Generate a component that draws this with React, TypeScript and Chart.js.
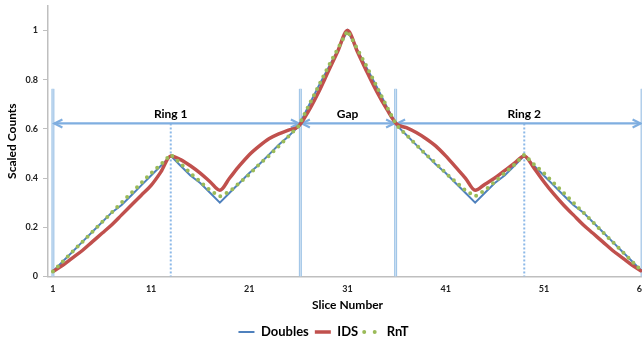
import React, { useEffect, useRef } from "react";
import { Chart, registerables } from "chart.js";

Chart.register(...registerables);

const FONT = "Lato, 'Open Sans', sans-serif";

// Slice numbers (categories)
const slices = Array.from({ length: 61 }, (_, i) => String(i + 1));

// Series values (scaled counts per slice)
const doubles = [
  0.02, 0.06, 0.10, 0.14, 0.18, 0.22, 0.26, 0.29, 0.33, 0.37, 0.41, 0.45, 0.49,
  0.45, 0.41, 0.38, 0.34, 0.30,
  0.34, 0.38, 0.42, 0.455, 0.495, 0.535, 0.57, 0.61,
  0.69, 0.77, 0.845, 0.92, 1.0,
  0.92, 0.845, 0.77, 0.69, 0.615,
  0.575, 0.535, 0.495, 0.455, 0.42, 0.38, 0.34, 0.30,
  0.34, 0.38, 0.41, 0.45, 0.49,
  0.45, 0.41, 0.37, 0.33, 0.29, 0.26, 0.22, 0.18, 0.14, 0.10, 0.06, 0.02,
];

const ids = [
  0.02, 0.045, 0.075, 0.105, 0.14, 0.175, 0.21, 0.25, 0.29, 0.33, 0.37, 0.425, 0.49,
  0.475, 0.45, 0.42, 0.385, 0.35,
  0.40, 0.45, 0.495, 0.53, 0.56, 0.58, 0.595, 0.61,
  0.67, 0.745, 0.83, 0.915, 1.0,
  0.915, 0.83, 0.75, 0.68, 0.62,
  0.605, 0.585, 0.56, 0.53, 0.49, 0.445, 0.40, 0.35,
  0.375, 0.40, 0.43, 0.46, 0.49,
  0.44, 0.385, 0.335, 0.29, 0.25, 0.21, 0.175, 0.14, 0.105, 0.075, 0.045, 0.02,
];

const rnt = [
  0.02, 0.06, 0.10, 0.14, 0.18, 0.22, 0.26, 0.30, 0.34, 0.38, 0.42, 0.455, 0.495,
  0.46, 0.42, 0.385, 0.35, 0.325,
  0.345, 0.38, 0.415, 0.455, 0.49, 0.53, 0.57, 0.61,
  0.69, 0.77, 0.85, 0.925, 1.0,
  0.925, 0.85, 0.77, 0.69, 0.615,
  0.575, 0.535, 0.495, 0.46, 0.42, 0.385, 0.35, 0.325,
  0.35, 0.385, 0.42, 0.455, 0.495,
  0.455, 0.42, 0.38, 0.34, 0.30, 0.26, 0.22, 0.18, 0.14, 0.10, 0.06, 0.02,
];

const seriesNames = ["Doubles", "IDS", "RnT"];
const yTicks = [0, 0.2, 0.4, 0.6, 0.8, 1];

// Region annotation values (slice positions and scaled-count levels)
const regionWalls = [1, 26.2, 35.9, 61];
const regionLabels = ["Ring 1", "Gap", "Ring 2"];
const regionLabelSlices = [13, 31, 49];
const ringPeakSlices = [13, 49];
const arrowLevel = 0.622;
const wallTopLevel = 0.763;

const BLUE = "#4F81BD";
const RED = "#C0504D";
const GREEN = "#9BBB59";

const regionPlugin = {
  id: "regions",
  beforeDatasetsDraw(chart: any) {
    const { ctx, scales } = chart;
    const x = scales.x;
    const y = scales.y;
    const px = (s: number) => x.getPixelForValue(s - 1);
    const yArrow = y.getPixelForValue(arrowLevel);
    const yTop = y.getPixelForValue(wallTopLevel);
    const yBot = y.getPixelForValue(0);
    ctx.save();

    // walls
    regionWalls.forEach((s) => {
      const xx = px(s);
      ctx.beginPath();
      ctx.moveTo(xx, yTop);
      ctx.lineTo(xx, yBot);
      ctx.strokeStyle = "#9DC3E6";
      ctx.lineWidth = 3;
      ctx.stroke();
      ctx.strokeStyle = "#CFE1F3";
      ctx.lineWidth = 1;
      ctx.stroke();
    });

    // dotted peak markers
    ctx.setLineDash([2, 2]);
    ctx.strokeStyle = "#8DB9E8";
    ctx.lineWidth = 2;
    ringPeakSlices.forEach((s) => {
      const xx = px(s);
      ctx.beginPath();
      ctx.moveTo(xx, yArrow);
      ctx.lineTo(xx, yBot);
      ctx.stroke();
    });
    ctx.setLineDash([]);

    // double-headed arrows
    const head = (tipX: number, dir: number) => {
      ctx.beginPath();
      ctx.moveTo(tipX + dir * 8, yArrow - 4);
      ctx.lineTo(tipX, yArrow);
      ctx.lineTo(tipX + dir * 8, yArrow + 4);
      ctx.stroke();
    };
    ctx.strokeStyle = "#7FAEE0";
    ctx.lineWidth = 2.2;
    ctx.lineJoin = "miter";
    for (let i = 0; i < regionWalls.length - 1; i++) {
      const x1 = px(regionWalls[i]) + 1.5;
      const x2 = px(regionWalls[i + 1]) - 1.5;
      ctx.beginPath();
      ctx.moveTo(x1, yArrow);
      ctx.lineTo(x2, yArrow);
      ctx.stroke();
      head(x1, 1);
      head(x2, -1);
    }

    // labels
    ctx.fillStyle = "#000";
    ctx.font = `bold 12px ${FONT}`;
    ctx.textAlign = "center";
    ctx.textBaseline = "middle";
    regionLabels.forEach((t, i) => {
      ctx.fillText(t, px(regionLabelSlices[i]), yArrow - 9);
    });
    ctx.restore();
  },
};

export default function App() {
  const ref = useRef<HTMLCanvasElement | null>(null);

  useEffect(() => {
    if (!ref.current) return;
    const legendStyles = [
      { lineWidth: 2, lineDash: [], lineCap: "butt", color: BLUE },
      { lineWidth: 3.5, lineDash: [], lineCap: "butt", color: RED },
      { lineWidth: 4, lineDash: [0, 10.5], lineCap: "round", color: GREEN },
    ];
    const chart = new Chart(ref.current, {
      type: "line",
      data: {
        labels: slices,
        datasets: [
          {
            label: seriesNames[0],
            data: doubles,
            borderColor: BLUE,
            borderWidth: 2,
            pointRadius: 0,
            tension: 0,
            order: 3,
          },
          {
            label: seriesNames[1],
            data: ids,
            borderColor: RED,
            borderWidth: 3.5,
            pointRadius: 0,
            cubicInterpolationMode: "monotone",
            order: 2,
          },
          {
            label: seriesNames[2],
            data: rnt,
            borderColor: GREEN,
            borderWidth: 4,
            borderDash: [0, 7],
            borderCapStyle: "round",
            pointRadius: 0,
            tension: 0,
            order: 1,
          },
        ],
      },
      options: {
        animation: false,
        responsive: false,
        maintainAspectRatio: false,
        layout: { padding: { top: 6, left: 0, right: 13, bottom: 0 } },
        plugins: {
          tooltip: { enabled: false },
          legend: {
            position: "bottom",
            maxHeight: 21.5,
            labels: {
              usePointStyle: true,
              pointStyleWidth: 16,
              padding: 6,
              color: "#000",
              font: { family: FONT, size: 13, weight: "bold" },
              sort: (a: any, b: any) => a.datasetIndex - b.datasetIndex,
              generateLabels: (c: any) =>
                c.data.datasets.map((ds: any, i: number) => ({
                  text: ds.label,
                  datasetIndex: i,
                  fillStyle: legendStyles[i].color,
                  strokeStyle: legendStyles[i].color,
                  lineWidth: legendStyles[i].lineWidth,
                  lineDash: legendStyles[i].lineDash,
                  lineCap: legendStyles[i].lineCap,
                  pointStyle: "line",
                  hidden: false,
                  fontColor: "#000",
                })),
            },
          },
        },
        scales: {
          x: {
            type: "category",
            offset: true,
            grid: { display: false, drawTicks: false },
            border: { display: true, color: "#BFBFBF", width: 1.5 },
            ticks: {
              autoSkip: false,
              maxRotation: 0,
              padding: 7,
              color: "#222",
              font: { family: FONT, size: 9, weight: "bold" },
              callback: (_v: any, i: number) => (i % 10 === 0 ? slices[i] : ""),
            },
            title: {
              display: true,
              text: "Slice Number",
              color: "#000",
              font: { family: FONT, size: 12, weight: "bold" },
              padding: { top: 0, bottom: 7.3 },
            },
            afterFit: (s: any) => {
              s.height = 43.2;
            },
          },
          y: {
            min: 0,
            max: 1.1,
            afterBuildTicks: (s: any) => {
              s.ticks = yTicks.map((v) => ({ value: v }));
            },
            grid: {
              drawOnChartArea: false,
              tickLength: 5,
              color: "#BFBFBF",
            },
            border: { display: true, color: "#BFBFBF", width: 1.5 },
            ticks: {
              padding: 5,
              color: "#222",
              font: { family: FONT, size: 9, weight: "bold", lineHeight: 0.2 },
              callback: (v: any) => String(Math.round(Number(v) * 10) / 10),
            },
            title: {
              display: true,
              text: "Scaled Counts",
              color: "#000",
              font: { family: FONT, size: 12, weight: "bold" },
              padding: { top: 5, bottom: 0 },
            },
            afterFit: (s: any) => {
              s.width = 48;
            },
          },
        },
      },
      plugins: [regionPlugin],
    } as any);
    return () => chart.destroy();
  }, []);

  return (
    <div
      style={{
        position: "absolute",
        left: 0,
        top: 0,
        width: 642,
        height: 341,
        overflow: "hidden",
        background: "#fff",
      }}
    >
      <canvas ref={ref} width={660} height={341} style={{ width: 660, height: 341, display: "block" }} />
    </div>
  );
}
